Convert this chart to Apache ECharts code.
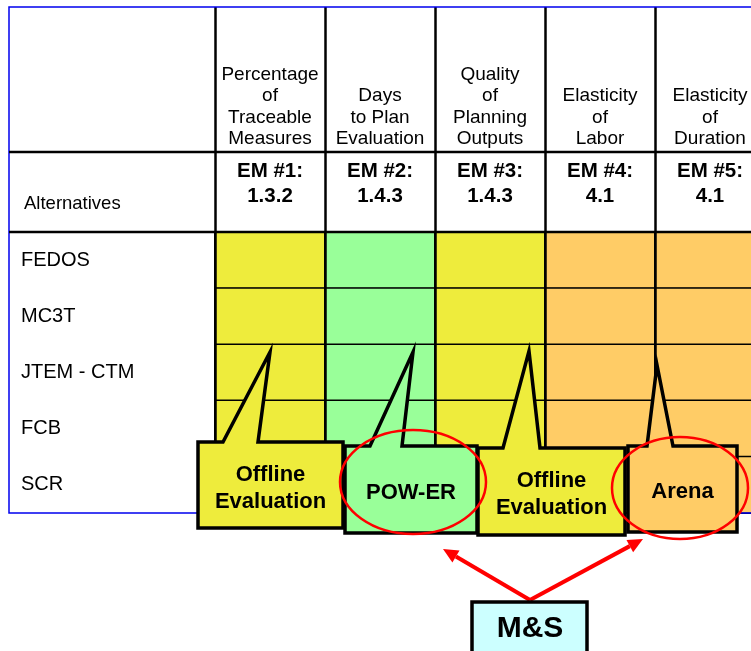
<!DOCTYPE html>
<html>
<head>
<meta charset="utf-8">
<script src="https://cdn.jsdelivr.net/npm/echarts@6/dist/echarts.min.js"></script>
<style>
  html, body { margin: 0; padding: 0; background: #fff; }
  #chart { width: 751px; height: 651px; }
</style>
</head>
<body>
<div id="chart"></div>
<script>
  // table contents
  const alternatives = ['FEDOS', 'MC3T', 'JTEM - CTM', 'FCB', 'SCR']
  const measures = ['Percentage\nof\nTraceable\nMeasures', 'Days\nto Plan\nEvaluation', 'Quality\nof\nPlanning\nOutputs', 'Elasticity\nof\nLabor', 'Elasticity\nof\nDuration']
  const emIds = ['EM #1:\n1.3.2', 'EM #2:\n1.4.3', 'EM #3:\n1.4.3', 'EM #4:\n4.1', 'EM #5:\n4.1']
  const tools = ['Offline Evaluation', 'POW-ER', 'Arena']
  const columnTool = [0, 1, 0, 2, 2]   // which tool evaluates each measure
  const simTool = 'M&S'

  // styles
  const FONT = "'Liberation Sans', Arial, sans-serif"
  const toolColors = ['#eeec3c', '#99ff99', '#ffcc66']
  const RED = '#ff0000'

  // every alternative gets the tool of its column
  let cells = []
  columnTool.forEach((t, c) => {
    alternatives.forEach((a, r) => cells.push([c, r, t]))
  })

  // callout shapes (box + tail tip), pixel layout
  const callouts = [
    {col: 0, box: [198, 442, 343, 528], tail: [223, 258], tip: [270, 352]},
    {col: 1, box: [345, 446, 477, 533], tail: [370, 402], tip: [413, 352]},
    {col: 2, box: [478, 448, 625, 535], tail: [503, 540], tip: [529, 351]},
    {col: 3, box: [628, 446, 737, 532], tail: [647, 673], tip: [657, 365]}
  ]

  function calloutGraphic (c) {
    let [x0, y0, x1, y1] = c.box
    let tool = tools[columnTool[c.col]]
    return [
      {
        type: 'polygon', z: 100,
        shape: {points: [[x0, y0], [c.tail[0], y0], c.tip, [c.tail[1], y0], [x1, y0], [x1, y1], [x0, y1]]},
        style: {fill: toolColors[columnTool[c.col]], stroke: '#000', lineWidth: 3.5, lineJoin: 'miter'}
      },
      {
        type: 'text', z: 101, x: (x0 + x1) / 2, y: (y0 + y1) / 2 + 3,
        style: {
          text: tool.replace(' ', '\n'), fill: '#000', font: 'bold 22px ' + FONT,
          lineHeight: 27, align: 'center', verticalAlign: 'middle', textAlign: 'center', textVerticalAlign: 'middle'
        }
      }
    ]
  }

  function arrow (x0, y0, x1, y1) {
    let len = Math.hypot(x1 - x0, y1 - y0)
    let ux = (x1 - x0) / len, uy = (y1 - y0) / len
    let bx = x1 - ux * 15, by = y1 - uy * 15
    return [
      {type: 'line', z: 110, shape: {x1: x0, y1: y0, x2: bx, y2: by}, style: {stroke: RED, lineWidth: 4}},
      {type: 'polygon', z: 110, shape: {points: [[x1, y1], [bx - uy * 7, by + ux * 7], [bx + uy * 7, by - ux * 7]]}, style: {fill: RED}}
    ]
  }

  let graphics = [
    // table frame and header rules
    {type: 'rect', z: 50, shape: {x: 9, y: 7, width: 770, height: 506}, style: {fill: 'none', stroke: '#0000ee', lineWidth: 1.5}},
    {type: 'line', z: 50, shape: {x1: 9, y1: 152, x2: 760, y2: 152}, style: {stroke: '#000', lineWidth: 2.5}},
    {type: 'line', z: 50, shape: {x1: 9, y1: 232, x2: 760, y2: 232}, style: {stroke: '#000', lineWidth: 2.5}},
    {
      type: 'text', z: 60, x: 24, y: 204,
      style: {text: 'Alternatives', fill: '#000', font: '18.5px ' + FONT, align: 'left', verticalAlign: 'middle', textAlign: 'left', textVerticalAlign: 'middle'}
    }
  ]
  callouts.forEach(c => { graphics = graphics.concat(calloutGraphic(c)) })
  graphics.push(
    {type: 'ellipse', z: 120, shape: {cx: 413, cy: 482, rx: 73, ry: 52}, style: {fill: 'none', stroke: RED, lineWidth: 2.5}},
    {type: 'ellipse', z: 120, shape: {cx: 680, cy: 488, rx: 68, ry: 51}, style: {fill: 'none', stroke: RED, lineWidth: 2.5}}
  )
  graphics = graphics.concat(arrow(530, 600, 443, 549), arrow(530, 600, 643, 539))
  graphics.push(
    {type: 'rect', z: 115, shape: {x: 472, y: 602, width: 115, height: 60}, style: {fill: '#ccffff', stroke: '#000', lineWidth: 3.5}},
    {
      type: 'text', z: 116, x: 530, y: 629,
      style: {text: simTool, fill: '#000', font: 'bold 30px ' + FONT, align: 'center', verticalAlign: 'middle', textAlign: 'center', textVerticalAlign: 'middle'}
    }
  )

  let chart = echarts.init(document.getElementById('chart'))
  chart.setOption({
    animation: false,
    textStyle: {fontFamily: FONT},
    grid: [
      {left: 215, width: 550, top: 7, height: 225, outerBoundsMode: 'none', containLabel: false},
      {left: 215, width: 550, top: 232, height: 281, outerBoundsMode: 'none', containLabel: false}
    ],
    xAxis: [
      {
        gridIndex: 0, type: 'category', data: emIds,
        axisLine: {show: false}, axisTick: {show: false}, axisLabel: {show: false},
        splitLine: {show: true, interval: 0, lineStyle: {color: '#000', width: 2.5}}
      },
      {
        gridIndex: 1, type: 'category', position: 'top', data: emIds, z: 10,
        axisLine: {show: false}, axisTick: {show: false},
        axisLabel: {interval: 0, margin: 23, fontSize: 20.5, fontWeight: 'bold', lineHeight: 25, color: '#000', verticalAlign: 'bottom'},
        splitLine: {show: true, interval: 0, lineStyle: {color: '#000', width: 2.5}}
      },
      {
        gridIndex: 1, type: 'category', position: 'top', offset: 80, data: measures,
        axisLine: {show: false}, axisTick: {show: false},
        axisLabel: {interval: 0, margin: 2, fontSize: 19, lineHeight: 21.5, color: '#000', verticalAlign: 'bottom'}
      }
    ],
    yAxis: [
      {gridIndex: 0, type: 'value', show: false, min: 0, max: 1},
      {
        gridIndex: 1, type: 'category', inverse: true, data: alternatives,
        axisLine: {show: false}, axisTick: {show: false},
        axisLabel: {margin: 194, align: 'left', fontSize: 20, color: '#000'}
      }
    ],
    visualMap: {
      show: false, type: 'piecewise', dimension: 2, seriesIndex: 0,
      pieces: tools.map((t, i) => ({value: i, color: toolColors[i]}))
    },
    series: [{
      type: 'heatmap', xAxisIndex: 1, yAxisIndex: 1, data: cells,
      itemStyle: {borderColor: '#000', borderWidth: 1.5},
      emphasis: {disabled: true}
    }],
    graphic: graphics
  })
</script>
</body>
</html>
